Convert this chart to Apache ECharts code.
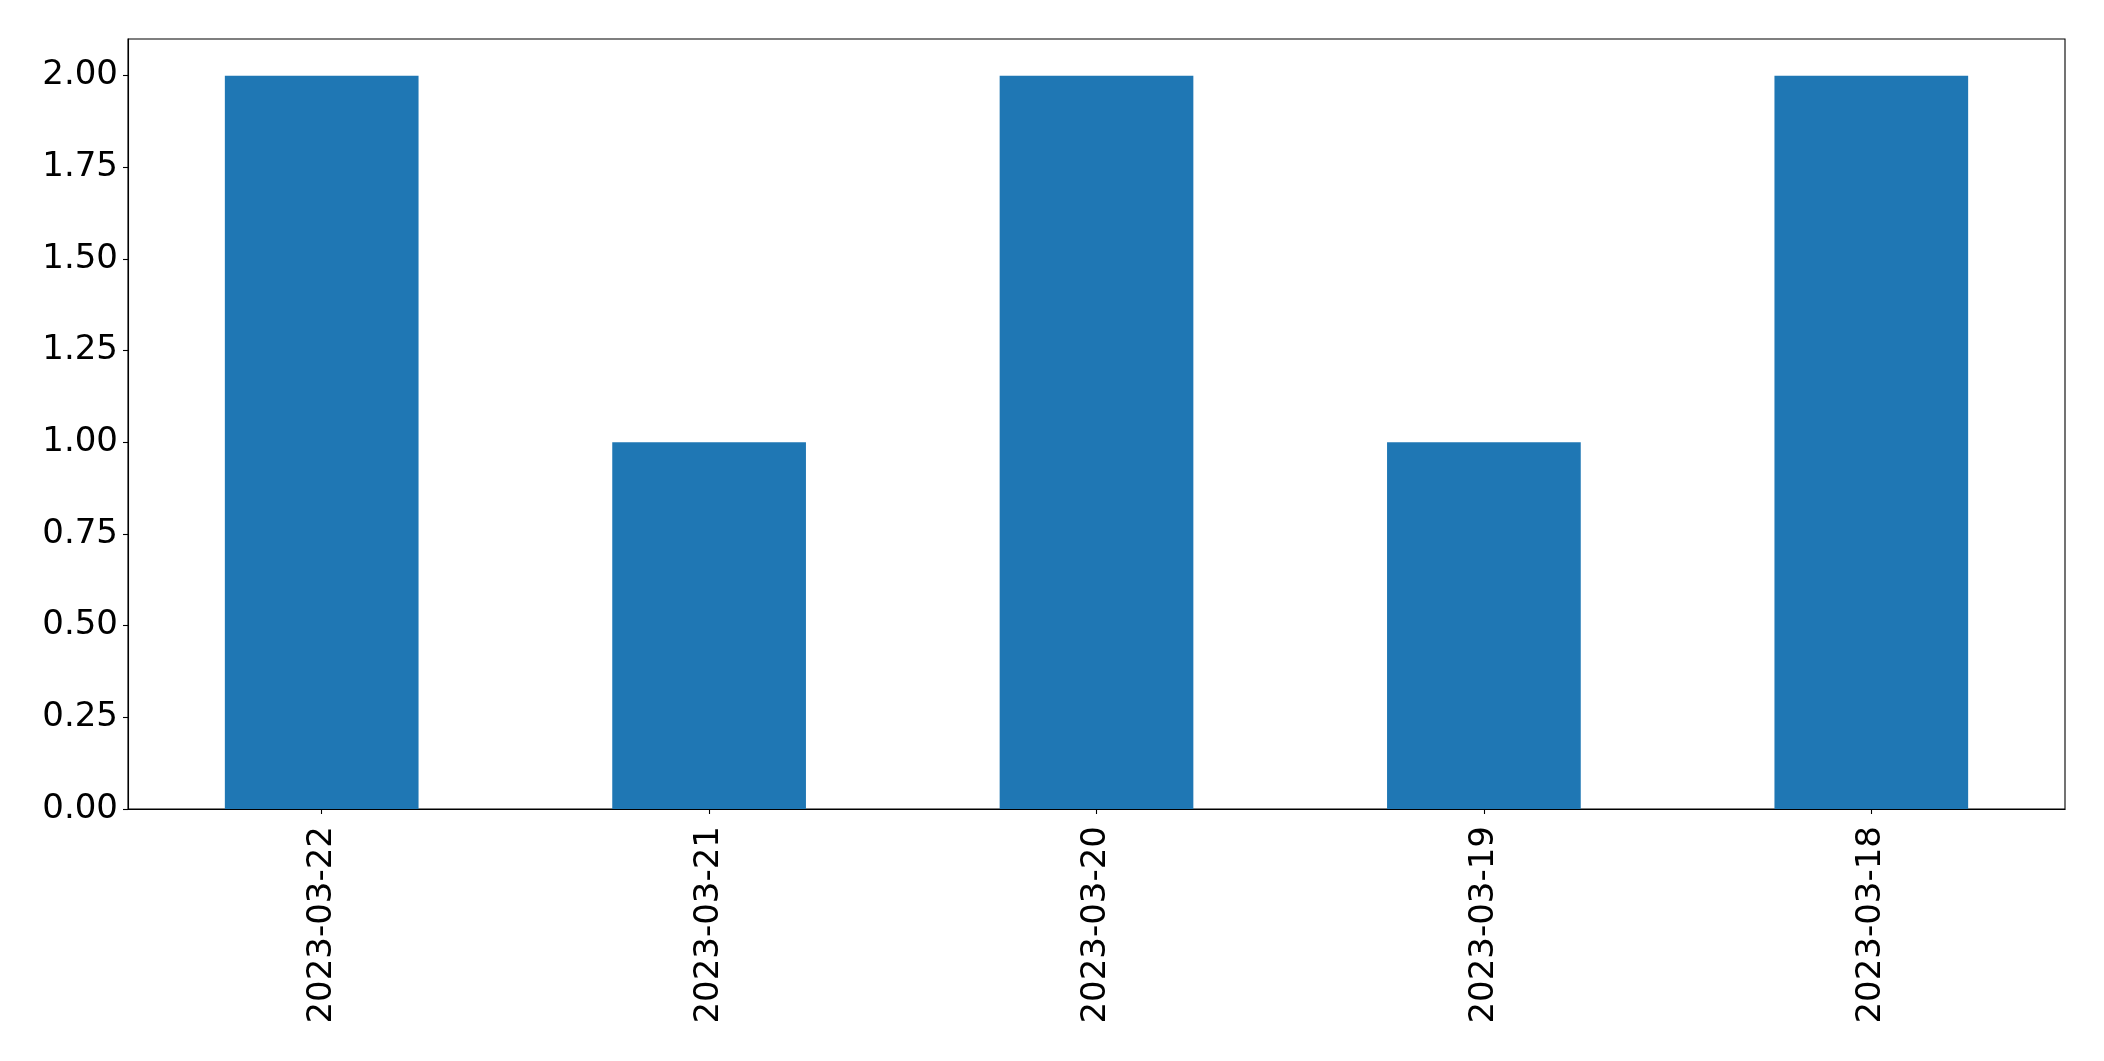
<!DOCTYPE html>
<html>
<head>
<meta charset="utf-8">
<script src="https://cdn.jsdelivr.net/npm/echarts@6/dist/echarts.min.js"></script>
<style>html,body{margin:0;padding:0;background:#fff;}#c{width:2104px;height:1061px;}</style>
</head>
<body>
<div id="c"></div>
<script>
const categories = ['2023-03-22', '2023-03-21', '2023-03-20', '2023-03-19', '2023-03-18'];
const values = [2, 1, 2, 1, 2];
const yTicks = [0, 0.25, 0.5, 0.75, 1.0, 1.25, 1.5, 1.75, 2.0];

const chart = echarts.init(document.getElementById('c'), null, {renderer: 'canvas'});
chart.setOption({
  animation: false,
  backgroundColor: '#ffffff',
  grid: {
    left: 128, top: 39, right: 39, bottom: 252,
    containLabel: false, outerBoundsMode: 'none',
    show: true, borderColor: '#000', borderWidth: 1.1, backgroundColor: 'transparent'
  },
  xAxis: {
    type: 'category',
    data: categories,
    boundaryGap: true,
    axisLine: {show: true, lineStyle: {color: '#000', width: 1.1}},
    axisTick: {show: true, alignWithLabel: true, length: 5, lineStyle: {color: '#000', width: 1.1}},
    axisLabel: {rotate: 90, margin: 17, fontSize: 34, color: '#000', fontFamily: 'DejaVu Sans'},
    splitLine: {show: false}
  },
  yAxis: {
    type: 'value',
    min: 0, max: 2.1, interval: 0.25,
    axisLine: {show: true, lineStyle: {color: '#000', width: 1.1}},
    axisTick: {show: true, length: 5, lineStyle: {color: '#000', width: 1.1}},
    axisLabel: {
      margin: 10, fontSize: 34, color: '#000', fontFamily: 'DejaVu Sans',
      formatter: function (v) { return yTicks.some(t => Math.abs(t - v) < 1e-9) ? v.toFixed(2) : ''; },
      showMaxLabel: false
    },
    splitLine: {show: false}
  },
  series: [{
    type: 'bar',
    data: values,
    barWidth: '50%',
    itemStyle: {color: '#1f77b4'}
  }]
});
</script>
</body>
</html>
